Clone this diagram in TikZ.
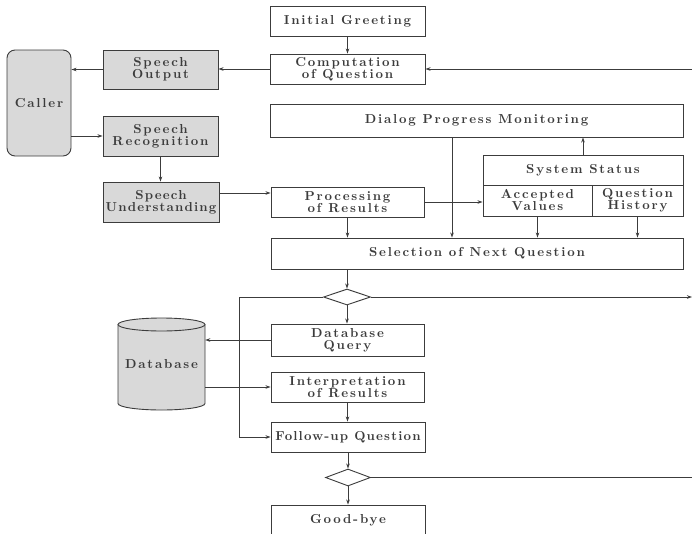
\documentclass[tikz,border=0pt]{standalone}
\usepackage{fontspec}
\usetikzlibrary{arrows.meta,shapes.geometric}
% spaced bold serif for the block labels
\newfontfamily\lblfont{lmroman10}[Extension=.otf, UprightFont=*-regular, BoldFont=*-bold, LetterSpace=14]
\newfontfamily\lbltight{lmroman10}[Extension=.otf, UprightFont=*-regular, BoldFont=*-bold, LetterSpace=9]
\definecolor{ink}{HTML}{3C3C3C}
\definecolor{boxgrey}{HTML}{D9D9D9}
\begin{document}
\begin{tikzpicture}[x=1pt,y=-1pt,
  font=\lblfont\fontsize{13}{12}\selectfont\bfseries,
  every node/.style={text=ink},
  box/.style={draw=ink, line width=0.9pt, inner sep=0pt, align=center, fill=white},
  gbox/.style={box, fill=boxgrey},
  tight/.style={font=\lbltight\fontsize{13}{12}\selectfont\bfseries},
  dia/.style={draw=ink, line width=0.9pt, diamond, inner sep=0pt, fill=white},
  arr/.style={draw=ink, line width=0.9pt, -{Stealth[length=5pt,width=3.5pt]}},
  ln/.style={draw=ink, line width=0.9pt}]
\useasboundingbox (0,0) rectangle (692,533);
\clip (0,0) rectangle (692,533);

% main column
\node[box, minimum width=155, minimum height=30] (greet) at (347.5,21) {Initial Greeting};
\node[box, minimum width=155, minimum height=30] (comp) at (347.5,69) {Computation\\of Question};
\node[box, minimum width=413, minimum height=33] (dpm) at (476.5,120.5) {Dialog Progress Monitoring};
\node[box, minimum width=153, minimum height=30] (proc) at (347.5,202) {Processing\\of Results};
\node[box, minimum width=412, minimum height=31] (sel) at (477,253.5) {Selection of Next Question};
\node[dia, minimum width=47, minimum height=16] (d1) at (347,297) {};
\node[box, minimum width=153, minimum height=32] (dbq) at (347.5,340) {Database\\Query};
\node[box, minimum width=153, minimum height=30] (interp) at (347.5,387) {Interpretation\\of Results};
\node[box, tight, minimum width=154, minimum height=30] (fol) at (348,437) {Follow-up Question};
\node[dia, minimum width=45, minimum height=17] (d2) at (348,477.5) {};
\node[box, minimum width=154, minimum height=30] (bye) at (348,520) {Good-bye};

% system status block
\node[box, minimum width=200, minimum height=30] (sysT) at (583,170) {System Status};
\node[box, minimum width=109, minimum height=31] (acc) at (537.5,200.5) {Accepted\\Values};
\node[box, minimum width=91, minimum height=31] (qh) at (637.5,200.5) {Question\\History};

% speech side
\node[gbox, rounded corners=8pt, minimum width=64, minimum height=106] (caller) at (39,103) {Caller};
\node[gbox, minimum width=115, minimum height=39] (sout) at (160.5,69.5) {Speech\\Output};
\node[gbox, minimum width=115, minimum height=40] (srec) at (160.5,136) {Speech\\Recognition};
\node[gbox, tight, minimum width=116, minimum height=40] (sund) at (161,202) {Speech\\Understanding};

% database cylinder
\fill[boxgrey] (118,324.5) -- (118,403.5) arc[start angle=180,end angle=0,x radius=43.5,y radius=6.5] -- (205,324.5) -- cycle;
\draw[ln] (118,324.5) -- (118,403.5) arc[start angle=180,end angle=0,x radius=43.5,y radius=6.5] -- (205,324.5);
\draw[ln, fill=boxgrey] (161.5,324.5) ellipse[x radius=43.5, y radius=6.5];
\node[inner sep=0pt, minimum width=87, minimum height=92] (db) at (161.5,364) {Database};

% free ends at the margin
\coordinate (rin) at (693,69);
\coordinate (rout1) at (692,297);
\coordinate (rout2) at (693,477.5);
\coordinate (loop) at (239,297);

% connectors
\draw[arr] (greet) -- (comp);
\draw[arr] (rin) -- (comp.east);
\draw[arr] (comp.west) -- (sout.east |- comp.west);
\draw[arr] (sout.west) -- (caller.east |- sout.west);
\draw[arr] (caller.east |- srec.west) -- (srec.west);
\draw[arr] (srec.south) -- (srec.south |- sund.north);
\draw[arr] (sund.east |- 0,193) -- (proc.west |- 0,193);
\draw[arr] (proc.east) -- (acc.west |- proc.east);
\draw[arr] (sysT.north) -- (sysT.north |- dpm.south);
\draw[arr] (dpm.south -| 452,0) -- (sel.north -| 452,0);
\draw[arr] (proc.south) -- (proc.south |- sel.north);
\draw[arr] (acc.south) -- (acc.south |- sel.north);
\draw[arr] (qh.south) -- (qh.south |- sel.north);
\draw[arr] (d1.north |- sel.south) -- (d1.north);
\draw[arr] (d1.east) -- (rout1);
\draw[arr] (d1.west) -- (loop) |- (fol.west);
\draw[arr] (d1.south) -- (dbq.north -| d1.south);
\draw[arr] (dbq.west) -- (db.east |- dbq.west);
\draw[arr] (db.east |- interp.west) -- (interp.west);
\draw[arr] (interp.south) -- (fol.north -| interp.south);
\draw[arr] (fol.south) -- (d2.north);
\draw[ln] (d2.east) -- (rout2);
\draw[arr] (d2.south) -- (bye.north);
\end{tikzpicture}
\end{document}
